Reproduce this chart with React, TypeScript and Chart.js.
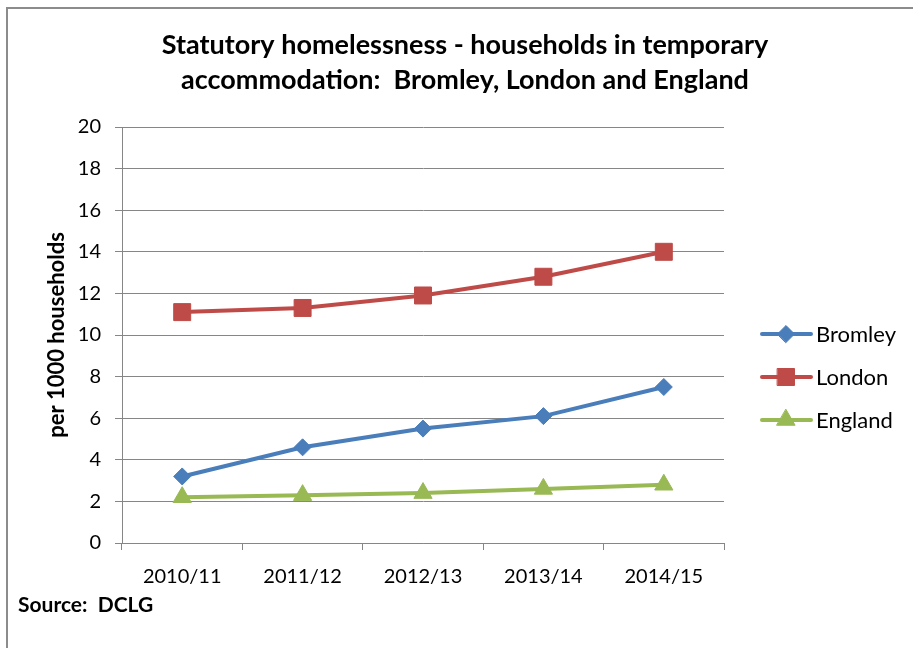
import React, { useEffect, useRef } from "react";
import { Chart, registerables } from "chart.js";
import { drawPoint } from "chart.js/helpers";

Chart.register(...registerables);

const categories = ["2010/11", "2011/12", "2012/13", "2013/14", "2014/15"];
const bromley = [3.2, 4.6, 5.5, 6.1, 7.5];
const london = [11.1, 11.3, 11.9, 12.8, 14.0];
const england = [2.2, 2.3, 2.4, 2.6, 2.8];
const titleLines = [
  "Statutory homelessness - households in temporary",
  "accommodation:  Bromley, London and England",
];
const yAxisTitle = "per 1000 households";
const sourceText = "Source:  DCLG";

const FONT = "Lato, 'Open Sans', sans-serif";

const overlayPlugin = {
  id: "overlay",
  beforeDraw(chart: any) {
    const ctx = chart.ctx;
    ctx.save();
    ctx.fillStyle = "#fff";
    ctx.fillRect(0, 0, chart.width, chart.height);
    ctx.restore();
  },
  afterDraw(chart: any) {
    const ctx = chart.ctx;
    ctx.save();
    // outer frame (left and top edges)
    ctx.fillStyle = "#8c8c8c";
    ctx.fillRect(6, 7, 2, chart.height - 7);
    ctx.fillRect(6, 7, chart.width - 6, 2);

    ctx.fillStyle = "#000";
    ctx.textBaseline = "middle";
    ctx.textAlign = "center";
    ctx.font = `bold 27px ${FONT}`;
    ctx.fillText(titleLines[0], 465, 45);
    ctx.fillText(titleLines[1], 465, 80);

    ctx.textAlign = "left";
    ctx.font = `bold 21px ${FONT}`;
    ctx.fillText(sourceText, 18, 605);

    // legend
    const ys = [334, 377, 420];
    chart.data.datasets.forEach((ds: any, i: number) => {
      const y = ys[i];
      ctx.strokeStyle = ds.borderColor;
      ctx.lineWidth = 4;
      ctx.lineCap = "round";
      ctx.beginPath();
      ctx.moveTo(762, y);
      ctx.lineTo(811, y);
      ctx.stroke();
      ctx.fillStyle = ds.pointBackgroundColor;
      ctx.strokeStyle = ds.pointBorderColor;
      ctx.lineWidth = 1;
      drawPoint(ctx, { pointStyle: ds.pointStyle, radius: ds.pointRadius, rotation: 0, borderWidth: 1 }, 786, y);
      ctx.fillStyle = "#000";
      ctx.font = `22px ${FONT}`;
      ctx.textAlign = "left";
      ctx.fillText(ds.label, 816, y + 1);
    });
    ctx.restore();
  },
};

export default function App() {
  const ref = useRef<HTMLCanvasElement | null>(null);
  useEffect(() => {
    if (!ref.current) return;
    const mk = (label: string, data: number[], color: string, style: string, r: number) => ({
      label,
      data,
      borderColor: color,
      backgroundColor: color,
      pointBackgroundColor: color,
      pointBorderColor: color,
      pointBorderWidth: 1,
      pointStyle: style,
      pointRadius: r,
      borderWidth: 4,
      tension: 0,
    });
    const chart = new Chart(ref.current, {
      type: "line",
      data: {
        labels: categories,
        datasets: [
          mk("Bromley", bromley, "#4A7EBB", "rectRot", 8.5),
          mk("London", london, "#BE4B48", "rect", 12),
          mk("England", england, "#98B954", "triangle", 10.5),
        ],
      },
      options: {
        responsive: false,
        animation: false,
        layout: { padding: { top: 127, right: 189, left: 0, bottom: 0 } },
        plugins: { legend: { display: false }, title: { display: false }, tooltip: { enabled: false } },
        scales: {
          x: {
            offset: true,
            grid: { display: true, offset: true, drawOnChartArea: false, drawTicks: true, tickLength: 7, color: "#868686" },
            border: { color: "#868686", width: 1 },
            ticks: { color: "#000", font: { family: FONT, size: 20 }, padding: 15, maxRotation: 0 },
            afterFit: (s: any) => { s.height = 105; },
          },
          y: {
            min: 0,
            max: 20,
            ticks: { stepSize: 2, color: "#000", font: { family: FONT, size: 20 }, padding: 14 },
            grid: { color: "#868686", tickLength: 7 },
            border: { color: "#868686", width: 1 },
            title: { display: true, text: yAxisTitle, color: "#000", font: { family: FONT, size: 22, weight: "bold" }, padding: { top: 44, bottom: 0 } },
            afterFit: (s: any) => { s.width = 122; },
          },
        },
      },
      plugins: [overlayPlugin],
    });
    return () => chart.destroy();
  }, []);
  return (
    <div style={{ position: "fixed", left: 0, top: 0, width: 913, height: 648, overflow: "hidden", background: "#fff" }}>
      <canvas ref={ref} width={913} height={648} style={{ position: "absolute", left: 0, top: 0, display: "block" }} />
    </div>
  );
}
